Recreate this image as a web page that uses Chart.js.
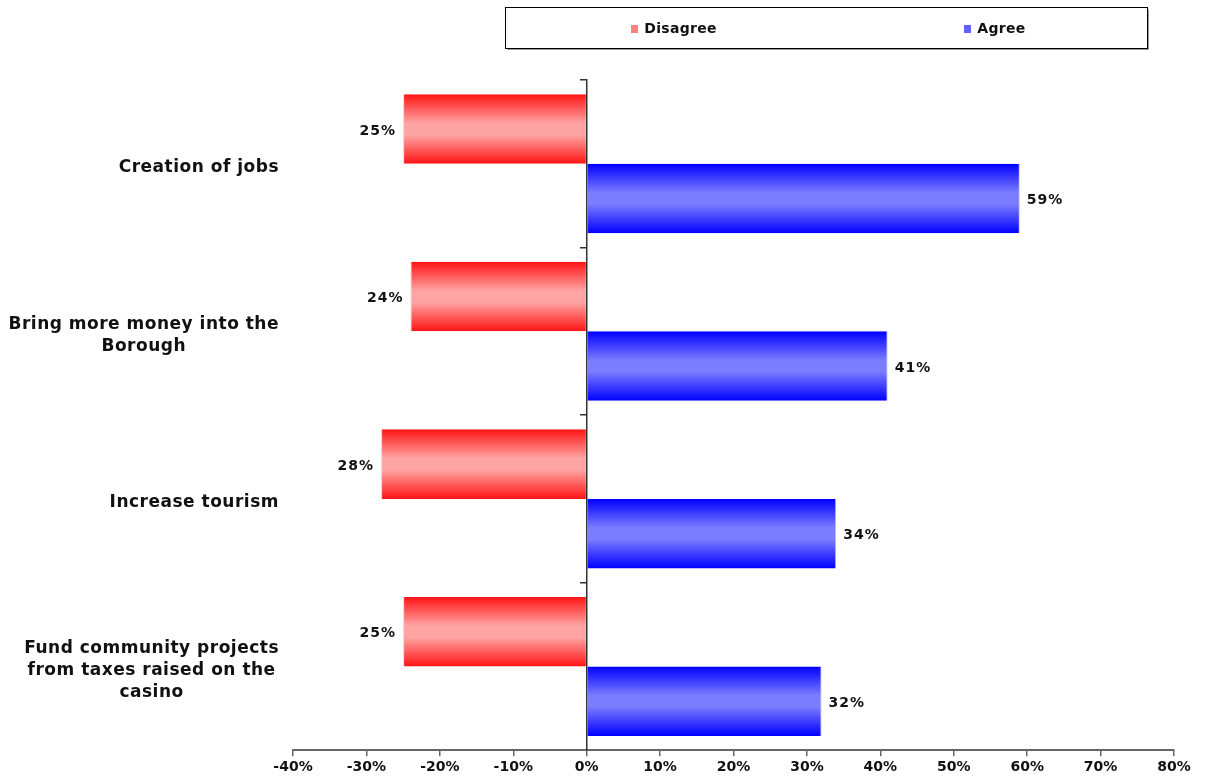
<!DOCTYPE html>
<html>
<head>
<meta charset="utf-8">
<title>Perceived benefits of the casino</title>
<script src="https://cdn.jsdelivr.net/npm/chart.js@4.4.1/dist/chart.umd.min.js"></script>
<style>
  html, body { margin: 0; padding: 0; background: #ffffff; }
  #wrap { width: 1209px; height: 779px; position: relative; }
</style>
</head>
<body>
<div id="wrap"><canvas id="chart" width="1209" height="779"></canvas></div>
<script>
// ---- data ----
const categories = [
  ["Creation of jobs"],
  ["Bring more money into the", "Borough"],
  ["Increase tourism"],
  ["Fund community projects", "from taxes raised on the", "casino"]
];
const seriesNames = ["Disagree", "Agree"];
const disagree = [-25, -24, -28, -25];
const agree = [59, 41, 34, 32];
const xTickValues = [-40, -30, -20, -10, 0, 10, 20, 30, 40, 50, 60, 70, 80];

// ---- styling ----
const FONT = '"DejaVu Sans", Verdana, sans-serif';
const TEXT = '#111111';
const gradients = [
  [[0, '#ff1414'], [0.42, '#ffa4a4'], [0.58, '#ffa4a4'], [1, '#ff1414']],
  [[0, '#0000ff'], [0.42, '#7c7cff'], [0.58, '#7c7cff'], [1, '#0000ff']]
];
const swatchColors = ['#ff8080', '#6060ff'];

// vertical shading across every bar
const barGradient = {
  id: 'barGradient',
  beforeDatasetsDraw(chart) {
    const ctx = chart.ctx;
    chart.data.datasets.forEach((ds, di) => {
      chart.getDatasetMeta(di).data.forEach(el => {
        const top = el.y - el.height / 2;
        const g = ctx.createLinearGradient(0, top, 0, top + el.height);
        gradients[di].forEach(([o, c]) => g.addColorStop(o, c));
        el.options = Object.assign({}, el.options, { backgroundColor: g });
      });
    });
  }
};

// percentage labels beside the bar ends
const valueLabels = {
  id: 'valueLabels',
  afterDatasetsDraw(chart) {
    const ctx = chart.ctx;
    ctx.save();
    ctx.font = 'bold 14px ' + FONT;
    ctx.letterSpacing = '1px';
    ctx.fillStyle = TEXT;
    ctx.textBaseline = 'middle';
    chart.data.datasets.forEach((ds, di) => {
      chart.getDatasetMeta(di).data.forEach((el, i) => {
        const v = ds.data[i];
        const txt = Math.abs(v) + '%';
        if (v < 0) {
          ctx.textAlign = 'right';
          ctx.fillText(txt, el.x - 7, el.y + 2);
        } else {
          ctx.textAlign = 'left';
          ctx.fillText(txt, el.x + 7, el.y + 2);
        }
      });
    });
    ctx.restore();
  }
};

// category captions: block right-aligned, lines centred within the block
const categoryLabels = {
  id: 'categoryLabels',
  afterDraw(chart) {
    const ctx = chart.ctx;
    const yScale = chart.scales.y;
    const right = chart.chartArea.left - 14;
    const lh = 22;
    ctx.save();
    ctx.font = 'bold 17px ' + FONT;
    ctx.letterSpacing = '0.5px';
    ctx.fillStyle = TEXT;
    ctx.textAlign = 'center';
    ctx.textBaseline = 'middle';
    chart.data.labels.forEach((lines, i) => {
      const cy = yScale.getPixelForValue(i);
      const w = Math.max(...lines.map(l => ctx.measureText(l).width));
      const cx = right - w / 2;
      const y0 = cy - (lines.length - 1) * lh / 2 + 4;
      lines.forEach((l, k) => ctx.fillText(l, cx, y0 + k * lh));
    });
    ctx.restore();
  }
};

// framed legend across the top
const boxLegend = {
  id: 'boxLegend',
  afterDraw(chart) {
    const ctx = chart.ctx;
    const bx = 505.5, by = 7.5, bw = 642, bh = 41;
    ctx.save();
    ctx.strokeStyle = '#999999';
    ctx.lineWidth = 1;
    ctx.beginPath();
    ctx.moveTo(bx + 2, by + bh + 1);
    ctx.lineTo(bx + bw + 1, by + bh + 1);
    ctx.lineTo(bx + bw + 1, by + 2);
    ctx.stroke();
    ctx.fillStyle = '#ffffff';
    ctx.fillRect(bx, by, bw, bh);
    ctx.strokeStyle = '#000000';
    ctx.strokeRect(bx, by, bw, bh);
    ctx.font = 'bold 14px ' + FONT;
    ctx.letterSpacing = '0.3px';
    ctx.textBaseline = 'middle';
    ctx.textAlign = 'left';
    const half = bw / 2;
    const cy = by + bh / 2;
    chart.data.datasets.forEach((ds, di) => {
      const tw = ctx.measureText(ds.label).width;
      const itemW = 7 + 6 + tw;
      const cx = bx + half * di + half / 2 + 8;
      const x0 = cx - itemW / 2;
      ctx.fillStyle = swatchColors[di];
      ctx.fillRect(Math.round(x0), Math.round(cy - 3), 7, 8);
      ctx.fillStyle = TEXT;
      ctx.fillText(ds.label, x0 + 13, cy + 1);
    });
    ctx.restore();
  }
};

new Chart(document.getElementById('chart'), {
  type: 'bar',
  data: {
    labels: categories,
    datasets: [
      {
        label: seriesNames[0],
        data: disagree,
        backgroundColor: '#ff6060',
        borderColor: '#ffc4c4',
        borderWidth: { left: 1, right: 0, top: 0, bottom: 0 },
        borderSkipped: false
      },
      {
        label: seriesNames[1],
        data: agree,
        backgroundColor: '#5050ff',
        borderColor: '#c4c4ff',
        borderWidth: { left: 0, right: 1, top: 0, bottom: 0 },
        borderSkipped: false
      }
    ]
  },
  options: {
    indexAxis: 'y',
    responsive: false,
    animation: false,
    events: [],
    layout: { padding: { top: 80, left: 293, right: 35, bottom: 0 } },
    datasets: { bar: { categoryPercentage: 0.83, barPercentage: 1 } },
    plugins: { legend: { display: false }, tooltip: { enabled: false } },
    scales: {
      x: {
        type: 'linear',
        min: xTickValues[0],
        max: xTickValues[xTickValues.length - 1],
        afterBuildTicks(scale) { scale.ticks = xTickValues.map(v => ({ value: v })); },
        grid: { display: true, drawOnChartArea: false, drawTicks: true, tickLength: 6, color: '#666666', lineWidth: 1.5 },
        border: { display: true, color: '#666666', width: 2 },
        ticks: {
          color: TEXT,
          padding: 3,
          maxRotation: 0,
          autoSkip: false,
          font: { family: FONT, size: 14, weight: 'bold' },
          callback: v => v + '%'
        }
      },
      y: {
        type: 'category',
        position: { x: 0 },
        offset: true,
        grid: { display: true, offset: true, drawOnChartArea: false, drawTicks: true, tickLength: 6, color: '#333333', lineWidth: 1.5 },
        border: { display: true, color: '#333333', width: 1.5 },
        ticks: { display: false }
      }
    }
  },
  plugins: [barGradient, valueLabels, categoryLabels, boxLegend]
});
</script>
</body>
</html>
